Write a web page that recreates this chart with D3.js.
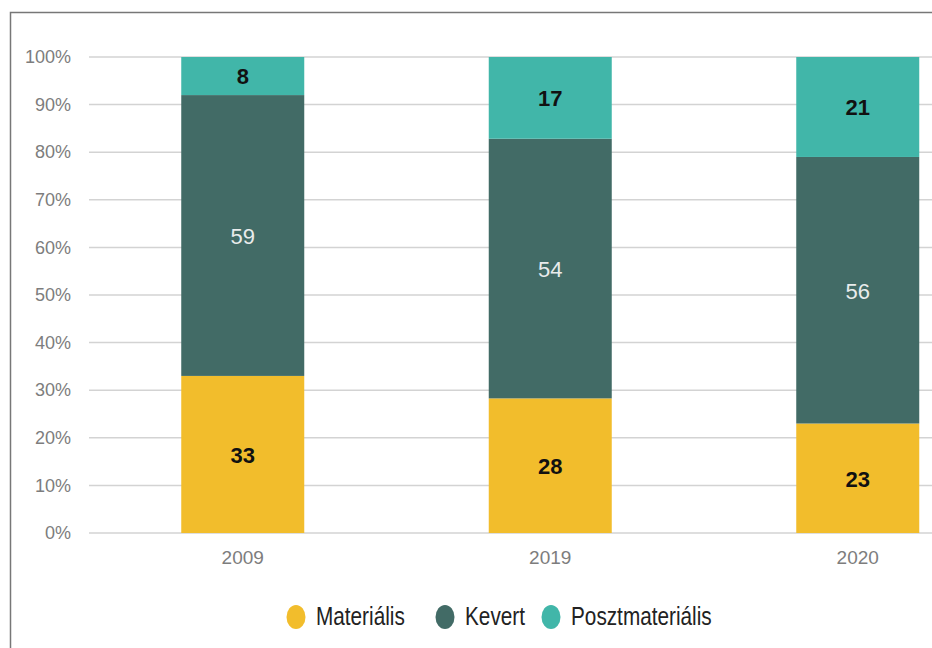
<!DOCTYPE html>
<html>
<head>
<meta charset="utf-8">
<script src="https://cdn.jsdelivr.net/npm/d3@7"></script>
<style>
  body { margin: 0; background: #fff; }
  svg { display: block; font-family: "Liberation Sans", Arial, sans-serif; }
</style>
</head>
<body>
<svg id="chart" width="932" height="648"></svg>
<script>
var years = ['2009', '2019', '2020']
var seriesNames = ['Materiális', 'Kevert', 'Posztmateriális']
var materialis = [33, 28, 23]
var kevert = [59, 54, 56]
var posztmaterialis = [8, 17, 21]
var yTicks = [0, 0.1, 0.2, 0.3, 0.4, 0.5, 0.6, 0.7, 0.8, 0.9, 1]

var colors = ['#f2bd2c', '#426b66', '#41b6a9']
var labelColors = ['#111', '#e9ecec', '#111']

var rows = years.map((y, i) => ({
  year: y
, 'Materiális': materialis[i]
, 'Kevert': kevert[i]
, 'Posztmateriális': posztmaterialis[i]
}))

var stack = d3.stack()
  .keys(seriesNames)
  .offset(d3.stackOffsetExpand)
var layers = stack(rows)

var svg = d3.select('#chart')

// frame, only left and top edges fall inside the picture
svg.append('path')
  .attr('d', 'M10.5,648 L10.5,12.5 L932,12.5')
  .attr('fill', 'none')
  .attr('stroke', '#777')
  .attr('stroke-width', 1.5)

var x = d3.scaleBand()
  .domain(years)
  .range([89, 1011.5])
  .paddingInner(0.6)
  .paddingOuter(0.3)

var y = d3.scaleLinear()
  .domain([0, 1])
  .range([533, 57])

// gridlines
svg.append('g')
  .selectAll('line')
  .data(yTicks)
  .enter()
  .append('line')
  .attr('x1', 89)
  .attr('x2', 1011)
  .attr('y1', (d) => y(d))
  .attr('y2', (d) => y(d))
  .attr('stroke', '#d3d3d3')
  .attr('stroke-width', 1.5)

var yAxis = svg.append('g')
  .attr('transform', 'translate(71,0)')
  .call(d3.axisLeft(y).tickValues(yTicks).tickFormat(d3.format('.0%')).tickSize(0).tickPadding(0))
yAxis.select('.domain').remove()
yAxis.selectAll('text')
  .attr('fill', '#7d7d7d')
  .style('font-size', '18px')
  .style('font-family', '"Liberation Sans", Arial, sans-serif')

var xAxis = svg.append('g')
  .attr('transform', 'translate(0,547)')
  .call(d3.axisBottom(x).tickSize(0).tickPadding(0))
xAxis.select('.domain').remove()
xAxis.selectAll('text')
  .attr('fill', '#7d7d7d')
  .attr('dy', '0.9em')
  .style('font-size', '19px')
  .style('font-family', '"Liberation Sans", Arial, sans-serif')

// bars
var groups = svg.append('g')
  .selectAll('g')
  .data(layers)
  .enter()
  .append('g')
  .attr('fill', (d, i) => colors[i])

groups.selectAll('rect')
  .data((d) => d)
  .enter()
  .append('rect')
  .attr('x', (d) => x(d.data.year))
  .attr('width', x.bandwidth())
  .attr('y', (d) => y(d[1]))
  .attr('height', (d) => y(d[0]) - y(d[1]))

// value labels
layers.forEach((layer, li) => {
  svg.append('g')
    .selectAll('text')
    .data(layer)
    .enter()
    .append('text')
    .attr('x', (d) => x(d.data.year) + x.bandwidth() / 2)
    .attr('y', (d) => (y(d[0]) + y(d[1])) / 2)
    .attr('dy', '0.38em')
    .attr('text-anchor', 'middle')
    .attr('fill', labelColors[li])
    .style('font-size', '22px')
    .style('font-weight', li === 1 ? 'normal' : 'bold')
    .text((d) => d.data[layer.key])
})

// legend
var legendX = [296, 445, 551]
var legend = svg.append('g')
  .selectAll('g')
  .data(seriesNames)
  .enter()
  .append('g')
  .attr('transform', (d, i) => 'translate(' + legendX[i] + ',617)')

legend.append('ellipse')
  .attr('rx', 9.5)
  .attr('ry', 12)
  .attr('fill', (d, i) => colors[i])

// the legend type is condensed, so squeeze it horizontally
legend.append('text')
  .attr('transform', 'translate(20,8) scale(0.83,1)')
  .attr('fill', '#222')
  .style('font-size', '25px')
  .text((d) => d)
</script>
</body>
</html>
